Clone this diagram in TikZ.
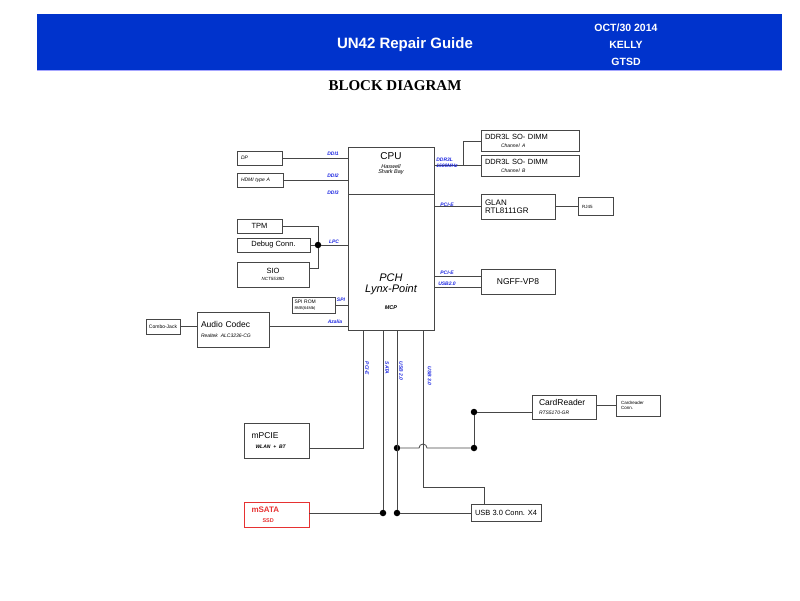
\documentclass[tikz,border=0pt]{standalone}
\usepackage{fontspec}
\setmainfont{Liberation Sans}
\newfontfamily\titlefont{Liberation Serif}
\usetikzlibrary{positioning}
\definecolor{hdrblue}{RGB}{0,51,204}
\definecolor{busblue}{RGB}{30,40,225}
\definecolor{linegray}{RGB}{70,70,70}
\definecolor{ssdred}{RGB}{230,50,50}
\newcommand{\txtsize}[2]{\fontsize{#1}{#2}\selectfont}
\tikzset{
  blk/.style={draw=linegray, line width=0.8pt, rectangle, inner xsep=2pt, inner ysep=1pt, align=center},
  wire/.style={draw=linegray, line width=0.8pt},
  bus/.style={text=busblue, font=\txtsize{5}{5.8}\bfseries\itshape, inner sep=0.5pt, align=left},
  dot/.style={circle, fill=black, inner sep=0pt, minimum size=6.5pt},
}
\begin{document}
\begin{tikzpicture}[x=1pt,y=-1pt]
    \useasboundingbox (0,0) rectangle (800,600);
    \fill[hdrblue] (37,14) rectangle (782,70);
    \draw[blue!35, line width=1pt] (37,70) -- (782,70);
    \node[text=white, font=\txtsize{15}{16}\bfseries] (title) at (405,45) {UN42 Repair Guide};
    \node[text=white, font=\txtsize{10.5}{17}\bfseries, align=center] (stamp) at (626,45) {OCT/30 2014\\KELLY\\GTSD};
    \node[font=\titlefont\txtsize{15}{17}\bfseries] (heading) at (395,86) {BLOCK DIAGRAM};
    \begin{scope}[every node/.append style={blk}]
      \node[minimum width=86, minimum height=47] (cpu) at (391,170.5) {};
      \node[minimum width=86, minimum height=136] (pch) at (391,262) {};
      \node[minimum width=45, minimum height=14, text width=37, align=left, font=\txtsize{5}{6}\itshape] (dp) at (259.5,158) {DP};
      \node[minimum width=46, minimum height=14, text width=38, align=left, font=\txtsize{5}{6}\itshape] (hdmi) at (260,180) {HDMI type A};
      \node[minimum width=45, minimum height=14, font=\txtsize{7.5}{8}] (tpm) at (259.5,226) {TPM};
      \node[minimum width=73, minimum height=14, font=\txtsize{7.5}{8}] (debug) at (273.5,245) {Debug Conn.};
      \node[minimum width=72, minimum height=25, font=\txtsize{7.5}{8}] (sio) at (273,274.5) {SIO\\[-1pt]{\txtsize{4.5}{5}\itshape NCT5538D}};
      \node[minimum width=43, minimum height=16, text width=38, align=left, font=\txtsize{5}{5.5}] (spirom) at (313.5,305) {SPI ROM\\{\txtsize{4}{4.5}8MB(64Mb)}};
      \node[minimum width=72, minimum height=35, text width=64, align=left, font=\txtsize{8.5}{10}] (codec) at (233,329.5) {Audio Codec\\{\txtsize{5}{6}\itshape Realtek ALC3236-CG}};
      \node[minimum width=34, minimum height=15, inner xsep=0.5pt, font=\txtsize{5}{6}] (combo) at (163,326.5) {Combo-Jack};
      \node[minimum width=98, minimum height=21, text width=90, align=left, font=\txtsize{7.5}{8}] (dimma) at (530,141) {DDR3L SO- DIMM\\\hspace*{16pt}{\txtsize{5}{6}\itshape Channel A}};
      \node[minimum width=98, minimum height=21, text width=90, align=left, font=\txtsize{7.5}{8}] (dimmb) at (530,165.5) {DDR3L SO- DIMM\\\hspace*{16pt}{\txtsize{5}{6}\itshape Channel B}};
      \node[minimum width=74, minimum height=25, text width=66, align=left, font=\txtsize{8}{8.5}] (glan) at (518,206.5) {GLAN\\RTL8111GR};
      \node[minimum width=35, minimum height=18, text width=27, align=left, font=\txtsize{4.5}{5}] (rj45) at (595.5,206.5) {RJ45};
      \node[minimum width=74, minimum height=25, font=\txtsize{8.5}{9}] (ngff) at (518,281.5) {NGFF-VP8};
      \node[minimum width=64, minimum height=24, text width=50, align=left, font=\txtsize{8.5}{9}] (cardreader) at (564,407) {CardReader\\{\txtsize{5}{6}\itshape RTS5170-GR}};
      \node[minimum width=44, minimum height=21, text width=34, align=left, font=\txtsize{4.5}{5}] (crconn) at (638,405.5) {Cardreader\\Conn.};
      \node[minimum width=65, minimum height=35, text width=50, align=left, font=\txtsize{8.5}{10}] (mpcie) at (276.5,440.5) {mPCIE\\\hspace*{4pt}{\txtsize{5}{6}\bfseries\itshape WLAN + BT}};
      \node[minimum width=65, minimum height=25, text width=50, align=left, draw=ssdred, text=ssdred, font=\txtsize{8}{10}\bfseries] (msata) at (276.5,514.5) {mSATA\\\hspace*{11pt}{\txtsize{5.5}{6}SSD}};
      \node[minimum width=70, minimum height=17, font=\txtsize{7.5}{8}] (usb) at (506,513) {USB 3.0 Conn. X4};
    \end{scope}
    \node[font=\txtsize{10}{10}] (cputxt) at (391,156) {CPU};
    \node[font=\txtsize{5.5}{5.8}\itshape, align=center] (cpusub) at (391,169.5) {Haswell\\Shark Bay};
    \node[font=\txtsize{11}{11}\itshape, align=center] (pchtxt) at (391,284.5) {PCH\\Lynx-Point};
    \node[font=\txtsize{5.5}{6}\bfseries\itshape] (mcp) at (391,308) {MCP};
    \node[dot] (jlpc) at (318,245) {};
    \node[dot] (jsata) at (383,513) {};
    \node[dot] (jusbb) at (397,513) {};
    \node[dot] (jusba) at (397,448) {};
    \node[dot] (jcra) at (474,448) {};
    \node[dot] (jcrb) at (474,412) {};
    \coordinate (ddrj) at (463,165.5);
    \coordinate (pcie) at (363,330);
    \coordinate (sata) at (383,330);
    \coordinate (usbtwo) at (397,330);
    \coordinate (usbthree) at (423,330);
    \coordinate (usbbend) at (484,487);
    \begin{scope}[every path/.append style={wire}]
      \path (dp.east) edge (dp.east -| cpu.west)
            (hdmi.east) edge (hdmi.east -| cpu.west)
            (debug.east) edge (jlpc)
            (jlpc) edge (jlpc -| pch.west)
            (spirom.east) edge (spirom.east -| pch.west)
            (combo.east) edge (combo.east -| codec.west)
            (dimmb.west -| cpu.east) edge (dimmb.west)
            (glan.west -| pch.east) edge (glan.west)
            (glan.east) edge (rj45.west)
            (crconn.west -| cardreader.east) edge (crconn.west)
            (jcrb) edge (jcrb -| cardreader.west)
            (jcra) edge (jcrb)
            (msata.east |- jsata) edge (jsata)
            (jusbb) edge (jusbb -| usb.west)
            (sata) edge (jsata)
            (usbtwo) edge (jusbb);
      \draw (tpm.east) -| (jlpc);
      \draw ([yshift=6pt]sio.east) -| (jlpc);
      \draw ([yshift=3.5pt]codec.east) -- ([yshift=3.5pt]codec.east -| pch.west);
      \draw (ddrj) |- (dimma.west);
      \draw ([yshift=5.5pt]ngff.west -| pch.east) -- ([yshift=5.5pt]ngff.west);
      \draw ([yshift=-5.5pt]ngff.west -| pch.east) -- ([yshift=-5.5pt]ngff.west);
      \draw (pcie) |- ([yshift=-7.5pt]mpcie.east);
      \draw (usbthree) |- (usbbend) -- (usbbend |- usb.north);
      \draw (jusba) -- (419,448) arc[start angle=180, end angle=0, radius=4pt] -- (jcra);
    \end{scope}
    \node[bus] (ddione) at (333,153.5) {DDI1};
    \node[bus] (ddiwo) at (333,176) {DDI2};
    \node[bus] (ddithree) at (333,192.5) {DDI3};
    \node[bus] (lpc) at (334,241.5) {LPC};
    \node[bus] (spi) at (341,300) {SPI};
    \node[bus] (azalia) at (335,322) {Azalia};
    \node[bus] (ddr) at (447,163) {DDR3L\\1600MHz};
    \node[bus] (glanbus) at (447,205) {PCI-E};
    \node[bus] (ngffpcie) at (447,272.5) {PCI-E};
    \node[bus] (ngffusb) at (447,283.5) {USB2.0};
    \node[bus, rotate=-90, anchor=south west] (vpcie) at (364.5,361) {PCI-E};
    \node[bus, rotate=-90, anchor=south west] (vsata) at (384.5,361) {SATA};
    \node[bus, rotate=-90, anchor=south west] (vusbtwo) at (398.5,361) {USB 2.0};
    \node[bus, rotate=-90, anchor=south west] (vusbthree) at (427,366) {USB 3.0};
\end{tikzpicture}
\end{document}
